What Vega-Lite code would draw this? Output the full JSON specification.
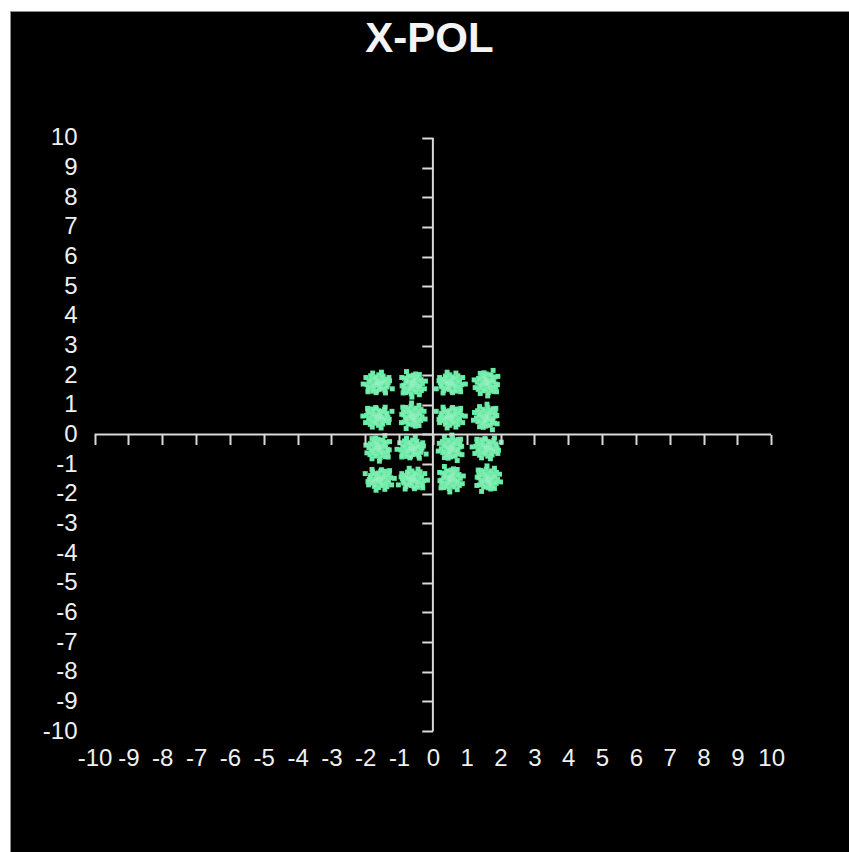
{
  "$schema": "https://vega.github.io/schema/vega-lite/v6.json",
  "width": 839,
  "height": 841,
  "autosize": {"type": "none"},
  "padding": {"left": 10, "top": 11, "right": 0, "bottom": 0},
  "background": "white",
  "title": {
    "text": "X-POL",
    "font": "Liberation Sans",
    "fontSize": 42,
    "fontWeight": "bold",
    "color": "#f4f4f4",
    "anchor": "middle",
    "frame": "group",
    "baseline": "alphabetic",
    "offset": -83
  },
  "config": {
    "view": {"fill": "black", "stroke": "#8c8c8c", "strokeWidth": 1},
    "axis": {
      "grid": false,
      "title": null,
      "labelFont": "Liberation Sans",
      "labelFontSize": 24,
      "labelColor": "#f0f0f0",
      "labelOverlap": false,
      "labelFlush": false,
      "labelBound": false,
      "labelExpr": "'' + datum.value"
    }
  },
  "datasets": {
    "symbols": [
      {"i":-1.62,"q":1.72},{"i":-1.57,"q":1.75},{"i":-1.68,"q":1.74},{"i":-1.60,"q":1.65},{"i":-1.65,"q":1.67},{"i":-1.53,"q":1.70},{"i":-1.72,"q":1.71},{"i":-1.58,"q":1.82},{"i":-1.67,"q":1.81},{"i":-1.51,"q":1.79},{"i":-1.74,"q":1.63},{"i":-1.54,"q":1.61},{"i":-1.64,"q":1.86},{"i":-1.49,"q":1.73},{"i":-1.42,"q":1.77},{"i":-1.83,"q":1.76},{"i":-1.45,"q":1.56},{"i":-1.80,"q":1.87},{"i":-1.59,"q":1.52},{"i":-1.69,"q":1.94},{"i":-1.38,"q":1.86},{"i":-1.87,"q":1.60},{"i":-1.50,"q":1.93},{"i":-1.76,"q":1.53},{"i":-1.35,"q":1.66},{"i":-1.66,"q":1.46},{"i":-1.28,"q":1.81},{"i":-1.98,"q":1.92},{"i":-1.40,"q":1.40},{"i":-1.92,"q":1.44},{"i":-1.52,"q":2.10},{"i":-1.20,"q":1.54},{"i":-2.06,"q":1.70},{"i":-1.78,"q":2.07},
      {"i":-1.44,"q":1.82},{"i":-1.79,"q":1.64},{"i":-1.53,"q":1.54},{"i":-1.72,"q":1.91},{"i":-1.36,"q":1.60},{"i":-1.89,"q":1.82},{"i":-1.47,"q":1.97},{"i":-1.78,"q":1.46},{"i":-1.32,"q":1.74},{"i":-1.91,"q":1.52},{"i":-1.60,"q":2.01},{"i":-1.42,"q":1.48},{"i":-1.84,"q":1.98},{"i":-1.30,"q":1.92},{"i":-1.68,"q":1.41},{"i":-1.95,"q":1.68},
      {"i":-0.60,"q":1.70},{"i":-0.57,"q":1.75},{"i":-0.58,"q":1.64},{"i":-0.67,"q":1.72},{"i":-0.65,"q":1.67},{"i":-0.62,"q":1.79},{"i":-0.61,"q":1.60},{"i":-0.50,"q":1.74},{"i":-0.51,"q":1.65},{"i":-0.53,"q":1.81},{"i":-0.69,"q":1.58},{"i":-0.71,"q":1.78},{"i":-0.46,"q":1.68},{"i":-0.59,"q":1.83},{"i":-0.55,"q":1.90},{"i":-0.56,"q":1.49},{"i":-0.76,"q":1.87},{"i":-0.45,"q":1.52},{"i":-0.80,"q":1.73},{"i":-0.38,"q":1.63},{"i":-0.46,"q":1.94},{"i":-0.72,"q":1.45},{"i":-0.39,"q":1.82},{"i":-0.79,"q":1.56},{"i":-0.66,"q":1.97},{"i":-0.86,"q":1.66},{"i":-0.51,"q":2.04},{"i":-0.40,"q":1.34},{"i":-0.92,"q":1.92},{"i":-0.88,"q":1.40},{"i":-0.22,"q":1.80},{"i":-0.78,"q":2.12},{"i":-0.62,"q":1.26},{"i":-0.25,"q":1.54},
      {"i":-0.50,"q":1.88},{"i":-0.68,"q":1.53},{"i":-0.78,"q":1.79},{"i":-0.41,"q":1.60},{"i":-0.72,"q":1.96},{"i":-0.50,"q":1.43},{"i":-0.35,"q":1.85},{"i":-0.86,"q":1.54},{"i":-0.58,"q":2.00},{"i":-0.80,"q":1.41},{"i":-0.31,"q":1.72},{"i":-0.84,"q":1.90},{"i":-0.34,"q":1.48},{"i":-0.40,"q":2.02},{"i":-0.91,"q":1.64},{"i":-0.64,"q":1.37},
      {"i":0.52,"q":1.72},{"i":0.47,"q":1.75},{"i":0.58,"q":1.74},{"i":0.50,"q":1.65},{"i":0.55,"q":1.67},{"i":0.43,"q":1.70},{"i":0.62,"q":1.71},{"i":0.48,"q":1.82},{"i":0.57,"q":1.81},{"i":0.41,"q":1.79},{"i":0.64,"q":1.63},{"i":0.44,"q":1.61},{"i":0.54,"q":1.86},{"i":0.39,"q":1.73},{"i":0.32,"q":1.77},{"i":0.73,"q":1.76},{"i":0.35,"q":1.56},{"i":0.70,"q":1.87},{"i":0.49,"q":1.52},{"i":0.59,"q":1.94},{"i":0.28,"q":1.86},{"i":0.77,"q":1.60},{"i":0.40,"q":1.93},{"i":0.66,"q":1.53},{"i":0.25,"q":1.66},{"i":0.56,"q":1.46},{"i":0.18,"q":1.81},{"i":0.88,"q":1.92},{"i":0.30,"q":1.40},{"i":0.82,"q":1.44},{"i":0.42,"q":2.10},{"i":0.10,"q":1.54},{"i":0.96,"q":1.70},{"i":0.68,"q":2.07},
      {"i":0.34,"q":1.82},{"i":0.69,"q":1.64},{"i":0.43,"q":1.54},{"i":0.62,"q":1.91},{"i":0.26,"q":1.60},{"i":0.79,"q":1.82},{"i":0.37,"q":1.97},{"i":0.68,"q":1.46},{"i":0.22,"q":1.74},{"i":0.81,"q":1.52},{"i":0.50,"q":2.01},{"i":0.32,"q":1.48},{"i":0.74,"q":1.98},{"i":0.20,"q":1.92},{"i":0.58,"q":1.41},{"i":0.85,"q":1.68},
      {"i":1.60,"q":1.74},{"i":1.57,"q":1.79},{"i":1.58,"q":1.68},{"i":1.67,"q":1.76},{"i":1.65,"q":1.71},{"i":1.62,"q":1.83},{"i":1.61,"q":1.64},{"i":1.50,"q":1.78},{"i":1.51,"q":1.69},{"i":1.53,"q":1.85},{"i":1.69,"q":1.62},{"i":1.71,"q":1.82},{"i":1.46,"q":1.72},{"i":1.59,"q":1.87},{"i":1.55,"q":1.94},{"i":1.56,"q":1.53},{"i":1.76,"q":1.91},{"i":1.45,"q":1.56},{"i":1.80,"q":1.77},{"i":1.38,"q":1.67},{"i":1.46,"q":1.98},{"i":1.72,"q":1.49},{"i":1.39,"q":1.86},{"i":1.79,"q":1.60},{"i":1.66,"q":2.01},{"i":1.86,"q":1.70},{"i":1.51,"q":2.08},{"i":1.40,"q":1.38},{"i":1.92,"q":1.96},{"i":1.88,"q":1.44},{"i":1.22,"q":1.84},{"i":1.78,"q":2.16},{"i":1.62,"q":1.30},{"i":1.25,"q":1.58},
      {"i":1.50,"q":1.92},{"i":1.68,"q":1.57},{"i":1.78,"q":1.83},{"i":1.41,"q":1.64},{"i":1.72,"q":2.00},{"i":1.50,"q":1.47},{"i":1.35,"q":1.89},{"i":1.86,"q":1.58},{"i":1.58,"q":2.04},{"i":1.80,"q":1.45},{"i":1.31,"q":1.76},{"i":1.84,"q":1.94},{"i":1.34,"q":1.52},{"i":1.40,"q":2.06},{"i":1.91,"q":1.68},{"i":1.64,"q":1.41},
      {"i":-1.63,"q":0.60},{"i":-1.58,"q":0.57},{"i":-1.69,"q":0.58},{"i":-1.61,"q":0.67},{"i":-1.66,"q":0.65},{"i":-1.54,"q":0.62},{"i":-1.73,"q":0.61},{"i":-1.59,"q":0.50},{"i":-1.68,"q":0.51},{"i":-1.52,"q":0.53},{"i":-1.75,"q":0.69},{"i":-1.55,"q":0.71},{"i":-1.65,"q":0.46},{"i":-1.50,"q":0.59},{"i":-1.43,"q":0.55},{"i":-1.84,"q":0.56},{"i":-1.46,"q":0.76},{"i":-1.81,"q":0.45},{"i":-1.60,"q":0.80},{"i":-1.70,"q":0.38},{"i":-1.39,"q":0.46},{"i":-1.88,"q":0.72},{"i":-1.51,"q":0.39},{"i":-1.77,"q":0.79},{"i":-1.36,"q":0.66},{"i":-1.67,"q":0.86},{"i":-1.29,"q":0.51},{"i":-1.99,"q":0.40},{"i":-1.41,"q":0.92},{"i":-1.93,"q":0.88},{"i":-1.53,"q":0.22},{"i":-1.21,"q":0.78},{"i":-2.07,"q":0.62},{"i":-1.79,"q":0.25},
      {"i":-1.45,"q":0.50},{"i":-1.80,"q":0.68},{"i":-1.54,"q":0.78},{"i":-1.73,"q":0.41},{"i":-1.37,"q":0.72},{"i":-1.90,"q":0.50},{"i":-1.48,"q":0.35},{"i":-1.79,"q":0.86},{"i":-1.33,"q":0.58},{"i":-1.92,"q":0.80},{"i":-1.61,"q":0.31},{"i":-1.43,"q":0.84},{"i":-1.85,"q":0.34},{"i":-1.31,"q":0.40},{"i":-1.69,"q":0.91},{"i":-1.96,"q":0.64},
      {"i":-0.61,"q":0.62},{"i":-0.58,"q":0.57},{"i":-0.59,"q":0.68},{"i":-0.68,"q":0.60},{"i":-0.66,"q":0.65},{"i":-0.63,"q":0.53},{"i":-0.62,"q":0.72},{"i":-0.51,"q":0.58},{"i":-0.52,"q":0.67},{"i":-0.54,"q":0.51},{"i":-0.70,"q":0.74},{"i":-0.72,"q":0.54},{"i":-0.47,"q":0.64},{"i":-0.60,"q":0.49},{"i":-0.56,"q":0.42},{"i":-0.57,"q":0.83},{"i":-0.77,"q":0.45},{"i":-0.46,"q":0.80},{"i":-0.81,"q":0.59},{"i":-0.39,"q":0.69},{"i":-0.47,"q":0.38},{"i":-0.73,"q":0.87},{"i":-0.40,"q":0.50},{"i":-0.80,"q":0.76},{"i":-0.67,"q":0.35},{"i":-0.87,"q":0.66},{"i":-0.52,"q":0.28},{"i":-0.41,"q":0.98},{"i":-0.93,"q":0.40},{"i":-0.89,"q":0.92},{"i":-0.23,"q":0.52},{"i":-0.79,"q":0.20},{"i":-0.63,"q":1.06},{"i":-0.26,"q":0.78},
      {"i":-0.51,"q":0.44},{"i":-0.69,"q":0.79},{"i":-0.79,"q":0.53},{"i":-0.42,"q":0.72},{"i":-0.73,"q":0.36},{"i":-0.51,"q":0.89},{"i":-0.36,"q":0.47},{"i":-0.87,"q":0.78},{"i":-0.59,"q":0.32},{"i":-0.81,"q":0.91},{"i":-0.32,"q":0.60},{"i":-0.85,"q":0.42},{"i":-0.35,"q":0.84},{"i":-0.41,"q":0.30},{"i":-0.92,"q":0.68},{"i":-0.65,"q":0.95},
      {"i":0.52,"q":0.60},{"i":0.47,"q":0.57},{"i":0.58,"q":0.58},{"i":0.50,"q":0.67},{"i":0.55,"q":0.65},{"i":0.43,"q":0.62},{"i":0.62,"q":0.61},{"i":0.48,"q":0.50},{"i":0.57,"q":0.51},{"i":0.41,"q":0.53},{"i":0.64,"q":0.69},{"i":0.44,"q":0.71},{"i":0.54,"q":0.46},{"i":0.39,"q":0.59},{"i":0.32,"q":0.55},{"i":0.73,"q":0.56},{"i":0.35,"q":0.76},{"i":0.70,"q":0.45},{"i":0.49,"q":0.80},{"i":0.59,"q":0.38},{"i":0.28,"q":0.46},{"i":0.77,"q":0.72},{"i":0.40,"q":0.39},{"i":0.66,"q":0.79},{"i":0.25,"q":0.66},{"i":0.56,"q":0.86},{"i":0.18,"q":0.51},{"i":0.88,"q":0.40},{"i":0.30,"q":0.92},{"i":0.82,"q":0.88},{"i":0.42,"q":0.22},{"i":0.10,"q":0.78},{"i":0.96,"q":0.62},{"i":0.68,"q":0.25},
      {"i":0.34,"q":0.50},{"i":0.69,"q":0.68},{"i":0.43,"q":0.78},{"i":0.62,"q":0.41},{"i":0.26,"q":0.72},{"i":0.79,"q":0.50},{"i":0.37,"q":0.35},{"i":0.68,"q":0.86},{"i":0.22,"q":0.58},{"i":0.81,"q":0.80},{"i":0.50,"q":0.31},{"i":0.32,"q":0.84},{"i":0.74,"q":0.34},{"i":0.20,"q":0.40},{"i":0.58,"q":0.91},{"i":0.85,"q":0.64},
      {"i":1.58,"q":0.58},{"i":1.55,"q":0.53},{"i":1.56,"q":0.64},{"i":1.65,"q":0.56},{"i":1.63,"q":0.61},{"i":1.60,"q":0.49},{"i":1.59,"q":0.68},{"i":1.48,"q":0.54},{"i":1.49,"q":0.63},{"i":1.51,"q":0.47},{"i":1.67,"q":0.70},{"i":1.69,"q":0.50},{"i":1.44,"q":0.60},{"i":1.57,"q":0.45},{"i":1.53,"q":0.38},{"i":1.54,"q":0.79},{"i":1.74,"q":0.41},{"i":1.43,"q":0.76},{"i":1.78,"q":0.55},{"i":1.36,"q":0.65},{"i":1.44,"q":0.34},{"i":1.70,"q":0.83},{"i":1.37,"q":0.46},{"i":1.77,"q":0.72},{"i":1.64,"q":0.31},{"i":1.84,"q":0.62},{"i":1.49,"q":0.24},{"i":1.38,"q":0.94},{"i":1.90,"q":0.36},{"i":1.86,"q":0.88},{"i":1.20,"q":0.48},{"i":1.76,"q":0.16},{"i":1.60,"q":1.02},{"i":1.23,"q":0.74},
      {"i":1.48,"q":0.40},{"i":1.66,"q":0.75},{"i":1.76,"q":0.49},{"i":1.39,"q":0.68},{"i":1.70,"q":0.32},{"i":1.48,"q":0.85},{"i":1.33,"q":0.43},{"i":1.84,"q":0.74},{"i":1.56,"q":0.28},{"i":1.78,"q":0.87},{"i":1.29,"q":0.56},{"i":1.82,"q":0.38},{"i":1.32,"q":0.80},{"i":1.38,"q":0.26},{"i":1.89,"q":0.64},{"i":1.62,"q":0.91},
      {"i":-1.60,"q":-0.46},{"i":-1.63,"q":-0.41},{"i":-1.62,"q":-0.52},{"i":-1.53,"q":-0.44},{"i":-1.55,"q":-0.49},{"i":-1.58,"q":-0.37},{"i":-1.59,"q":-0.56},{"i":-1.70,"q":-0.42},{"i":-1.69,"q":-0.51},{"i":-1.67,"q":-0.35},{"i":-1.51,"q":-0.58},{"i":-1.49,"q":-0.38},{"i":-1.74,"q":-0.48},{"i":-1.61,"q":-0.33},{"i":-1.65,"q":-0.26},{"i":-1.64,"q":-0.67},{"i":-1.44,"q":-0.29},{"i":-1.75,"q":-0.64},{"i":-1.40,"q":-0.43},{"i":-1.82,"q":-0.53},{"i":-1.74,"q":-0.22},{"i":-1.48,"q":-0.71},{"i":-1.81,"q":-0.34},{"i":-1.41,"q":-0.60},{"i":-1.54,"q":-0.19},{"i":-1.34,"q":-0.50},{"i":-1.69,"q":-0.12},{"i":-1.80,"q":-0.82},{"i":-1.28,"q":-0.24},{"i":-1.32,"q":-0.76},{"i":-1.98,"q":-0.36},{"i":-1.42,"q":-0.04},{"i":-1.58,"q":-0.90},{"i":-1.95,"q":-0.62},
      {"i":-1.70,"q":-0.28},{"i":-1.52,"q":-0.63},{"i":-1.42,"q":-0.37},{"i":-1.79,"q":-0.56},{"i":-1.48,"q":-0.20},{"i":-1.70,"q":-0.73},{"i":-1.85,"q":-0.31},{"i":-1.34,"q":-0.62},{"i":-1.62,"q":-0.16},{"i":-1.40,"q":-0.75},{"i":-1.89,"q":-0.44},{"i":-1.36,"q":-0.26},{"i":-1.86,"q":-0.68},{"i":-1.80,"q":-0.14},{"i":-1.29,"q":-0.52},{"i":-1.56,"q":-0.79},
      {"i":-0.62,"q":-0.48},{"i":-0.57,"q":-0.45},{"i":-0.68,"q":-0.46},{"i":-0.60,"q":-0.55},{"i":-0.65,"q":-0.53},{"i":-0.53,"q":-0.50},{"i":-0.72,"q":-0.49},{"i":-0.58,"q":-0.38},{"i":-0.67,"q":-0.39},{"i":-0.51,"q":-0.41},{"i":-0.74,"q":-0.57},{"i":-0.54,"q":-0.59},{"i":-0.64,"q":-0.34},{"i":-0.49,"q":-0.47},{"i":-0.42,"q":-0.43},{"i":-0.83,"q":-0.44},{"i":-0.45,"q":-0.64},{"i":-0.80,"q":-0.33},{"i":-0.59,"q":-0.68},{"i":-0.69,"q":-0.26},{"i":-0.38,"q":-0.34},{"i":-0.87,"q":-0.60},{"i":-0.50,"q":-0.27},{"i":-0.76,"q":-0.67},{"i":-0.35,"q":-0.54},{"i":-0.66,"q":-0.74},{"i":-0.28,"q":-0.39},{"i":-0.98,"q":-0.28},{"i":-0.40,"q":-0.80},{"i":-0.92,"q":-0.76},{"i":-0.52,"q":-0.10},{"i":-0.20,"q":-0.66},{"i":-1.06,"q":-0.50},{"i":-0.78,"q":-0.13},
      {"i":-0.44,"q":-0.38},{"i":-0.79,"q":-0.56},{"i":-0.53,"q":-0.66},{"i":-0.72,"q":-0.29},{"i":-0.36,"q":-0.60},{"i":-0.89,"q":-0.38},{"i":-0.47,"q":-0.23},{"i":-0.78,"q":-0.74},{"i":-0.32,"q":-0.46},{"i":-0.91,"q":-0.68},{"i":-0.60,"q":-0.19},{"i":-0.42,"q":-0.72},{"i":-0.84,"q":-0.22},{"i":-0.30,"q":-0.28},{"i":-0.68,"q":-0.79},{"i":-0.95,"q":-0.52},
      {"i":0.54,"q":-0.46},{"i":0.51,"q":-0.51},{"i":0.52,"q":-0.40},{"i":0.61,"q":-0.48},{"i":0.59,"q":-0.43},{"i":0.56,"q":-0.55},{"i":0.55,"q":-0.36},{"i":0.44,"q":-0.50},{"i":0.45,"q":-0.41},{"i":0.47,"q":-0.57},{"i":0.63,"q":-0.34},{"i":0.65,"q":-0.54},{"i":0.40,"q":-0.44},{"i":0.53,"q":-0.59},{"i":0.49,"q":-0.66},{"i":0.50,"q":-0.25},{"i":0.70,"q":-0.63},{"i":0.39,"q":-0.28},{"i":0.74,"q":-0.49},{"i":0.32,"q":-0.39},{"i":0.40,"q":-0.70},{"i":0.66,"q":-0.21},{"i":0.33,"q":-0.58},{"i":0.73,"q":-0.32},{"i":0.60,"q":-0.73},{"i":0.80,"q":-0.42},{"i":0.45,"q":-0.80},{"i":0.34,"q":-0.10},{"i":0.86,"q":-0.68},{"i":0.82,"q":-0.16},{"i":0.16,"q":-0.56},{"i":0.72,"q":-0.88},{"i":0.56,"q":-0.02},{"i":0.19,"q":-0.30},
      {"i":0.44,"q":-0.64},{"i":0.62,"q":-0.29},{"i":0.72,"q":-0.55},{"i":0.35,"q":-0.36},{"i":0.66,"q":-0.72},{"i":0.44,"q":-0.19},{"i":0.29,"q":-0.61},{"i":0.80,"q":-0.30},{"i":0.52,"q":-0.76},{"i":0.74,"q":-0.17},{"i":0.25,"q":-0.48},{"i":0.78,"q":-0.66},{"i":0.28,"q":-0.24},{"i":0.34,"q":-0.78},{"i":0.85,"q":-0.40},{"i":0.58,"q":-0.13},
      {"i":1.60,"q":-0.44},{"i":1.65,"q":-0.47},{"i":1.54,"q":-0.46},{"i":1.62,"q":-0.37},{"i":1.57,"q":-0.39},{"i":1.69,"q":-0.42},{"i":1.50,"q":-0.43},{"i":1.64,"q":-0.54},{"i":1.55,"q":-0.53},{"i":1.71,"q":-0.51},{"i":1.48,"q":-0.35},{"i":1.68,"q":-0.33},{"i":1.58,"q":-0.58},{"i":1.73,"q":-0.45},{"i":1.80,"q":-0.49},{"i":1.39,"q":-0.48},{"i":1.77,"q":-0.28},{"i":1.42,"q":-0.59},{"i":1.63,"q":-0.24},{"i":1.53,"q":-0.66},{"i":1.84,"q":-0.58},{"i":1.35,"q":-0.32},{"i":1.72,"q":-0.65},{"i":1.46,"q":-0.25},{"i":1.87,"q":-0.38},{"i":1.56,"q":-0.18},{"i":1.94,"q":-0.53},{"i":1.24,"q":-0.64},{"i":1.82,"q":-0.12},{"i":1.30,"q":-0.16},{"i":1.70,"q":-0.82},{"i":2.02,"q":-0.26},{"i":1.16,"q":-0.42},{"i":1.44,"q":-0.79},
      {"i":1.78,"q":-0.54},{"i":1.43,"q":-0.36},{"i":1.69,"q":-0.26},{"i":1.50,"q":-0.63},{"i":1.86,"q":-0.32},{"i":1.33,"q":-0.54},{"i":1.75,"q":-0.69},{"i":1.44,"q":-0.18},{"i":1.90,"q":-0.46},{"i":1.31,"q":-0.24},{"i":1.62,"q":-0.73},{"i":1.80,"q":-0.20},{"i":1.38,"q":-0.70},{"i":1.92,"q":-0.64},{"i":1.54,"q":-0.13},{"i":1.27,"q":-0.40},
      {"i":-1.58,"q":-1.50},{"i":-1.63,"q":-1.53},{"i":-1.52,"q":-1.52},{"i":-1.60,"q":-1.43},{"i":-1.55,"q":-1.45},{"i":-1.67,"q":-1.48},{"i":-1.48,"q":-1.49},{"i":-1.62,"q":-1.60},{"i":-1.53,"q":-1.59},{"i":-1.69,"q":-1.57},{"i":-1.46,"q":-1.41},{"i":-1.66,"q":-1.39},{"i":-1.56,"q":-1.64},{"i":-1.71,"q":-1.51},{"i":-1.78,"q":-1.55},{"i":-1.37,"q":-1.54},{"i":-1.75,"q":-1.34},{"i":-1.40,"q":-1.65},{"i":-1.61,"q":-1.30},{"i":-1.51,"q":-1.72},{"i":-1.82,"q":-1.64},{"i":-1.33,"q":-1.38},{"i":-1.70,"q":-1.71},{"i":-1.44,"q":-1.31},{"i":-1.85,"q":-1.44},{"i":-1.54,"q":-1.24},{"i":-1.92,"q":-1.59},{"i":-1.22,"q":-1.70},{"i":-1.80,"q":-1.18},{"i":-1.28,"q":-1.22},{"i":-1.68,"q":-1.88},{"i":-2.00,"q":-1.32},{"i":-1.14,"q":-1.48},{"i":-1.42,"q":-1.85},
      {"i":-1.76,"q":-1.60},{"i":-1.41,"q":-1.42},{"i":-1.67,"q":-1.32},{"i":-1.48,"q":-1.69},{"i":-1.84,"q":-1.38},{"i":-1.31,"q":-1.60},{"i":-1.73,"q":-1.75},{"i":-1.42,"q":-1.24},{"i":-1.88,"q":-1.52},{"i":-1.29,"q":-1.30},{"i":-1.60,"q":-1.79},{"i":-1.78,"q":-1.26},{"i":-1.36,"q":-1.76},{"i":-1.90,"q":-1.70},{"i":-1.52,"q":-1.19},{"i":-1.25,"q":-1.46},
      {"i":-0.60,"q":-1.52},{"i":-0.65,"q":-1.49},{"i":-0.54,"q":-1.50},{"i":-0.62,"q":-1.59},{"i":-0.57,"q":-1.57},{"i":-0.69,"q":-1.54},{"i":-0.50,"q":-1.53},{"i":-0.64,"q":-1.42},{"i":-0.55,"q":-1.43},{"i":-0.71,"q":-1.45},{"i":-0.48,"q":-1.61},{"i":-0.68,"q":-1.63},{"i":-0.58,"q":-1.38},{"i":-0.73,"q":-1.51},{"i":-0.80,"q":-1.47},{"i":-0.39,"q":-1.48},{"i":-0.77,"q":-1.68},{"i":-0.42,"q":-1.37},{"i":-0.63,"q":-1.72},{"i":-0.53,"q":-1.30},{"i":-0.84,"q":-1.38},{"i":-0.35,"q":-1.64},{"i":-0.72,"q":-1.31},{"i":-0.46,"q":-1.71},{"i":-0.87,"q":-1.58},{"i":-0.56,"q":-1.78},{"i":-0.94,"q":-1.43},{"i":-0.24,"q":-1.32},{"i":-0.82,"q":-1.84},{"i":-0.30,"q":-1.80},{"i":-0.70,"q":-1.14},{"i":-1.02,"q":-1.70},{"i":-0.16,"q":-1.54},{"i":-0.44,"q":-1.17},
      {"i":-0.78,"q":-1.42},{"i":-0.43,"q":-1.60},{"i":-0.69,"q":-1.70},{"i":-0.50,"q":-1.33},{"i":-0.86,"q":-1.64},{"i":-0.33,"q":-1.42},{"i":-0.75,"q":-1.27},{"i":-0.44,"q":-1.78},{"i":-0.90,"q":-1.50},{"i":-0.31,"q":-1.72},{"i":-0.62,"q":-1.23},{"i":-0.80,"q":-1.76},{"i":-0.38,"q":-1.26},{"i":-0.92,"q":-1.32},{"i":-0.54,"q":-1.83},{"i":-0.27,"q":-1.56},
      {"i":0.52,"q":-1.50},{"i":0.55,"q":-1.45},{"i":0.54,"q":-1.56},{"i":0.45,"q":-1.48},{"i":0.47,"q":-1.53},{"i":0.50,"q":-1.41},{"i":0.51,"q":-1.60},{"i":0.62,"q":-1.46},{"i":0.61,"q":-1.55},{"i":0.59,"q":-1.39},{"i":0.43,"q":-1.62},{"i":0.41,"q":-1.42},{"i":0.66,"q":-1.52},{"i":0.53,"q":-1.37},{"i":0.57,"q":-1.30},{"i":0.56,"q":-1.71},{"i":0.36,"q":-1.33},{"i":0.67,"q":-1.68},{"i":0.32,"q":-1.47},{"i":0.74,"q":-1.57},{"i":0.66,"q":-1.26},{"i":0.40,"q":-1.75},{"i":0.73,"q":-1.38},{"i":0.33,"q":-1.64},{"i":0.46,"q":-1.23},{"i":0.26,"q":-1.54},{"i":0.61,"q":-1.16},{"i":0.72,"q":-1.86},{"i":0.20,"q":-1.28},{"i":0.24,"q":-1.80},{"i":0.90,"q":-1.40},{"i":0.34,"q":-1.08},{"i":0.50,"q":-1.94},{"i":0.87,"q":-1.66},
      {"i":0.62,"q":-1.32},{"i":0.44,"q":-1.67},{"i":0.34,"q":-1.41},{"i":0.71,"q":-1.60},{"i":0.40,"q":-1.24},{"i":0.62,"q":-1.77},{"i":0.77,"q":-1.35},{"i":0.26,"q":-1.66},{"i":0.54,"q":-1.20},{"i":0.32,"q":-1.79},{"i":0.81,"q":-1.48},{"i":0.28,"q":-1.30},{"i":0.78,"q":-1.72},{"i":0.72,"q":-1.18},{"i":0.21,"q":-1.56},{"i":0.48,"q":-1.83},
      {"i":1.62,"q":-1.50},{"i":1.65,"q":-1.55},{"i":1.64,"q":-1.44},{"i":1.55,"q":-1.52},{"i":1.57,"q":-1.47},{"i":1.60,"q":-1.59},{"i":1.61,"q":-1.40},{"i":1.72,"q":-1.54},{"i":1.71,"q":-1.45},{"i":1.69,"q":-1.61},{"i":1.53,"q":-1.38},{"i":1.51,"q":-1.58},{"i":1.76,"q":-1.48},{"i":1.63,"q":-1.63},{"i":1.67,"q":-1.70},{"i":1.66,"q":-1.29},{"i":1.46,"q":-1.67},{"i":1.77,"q":-1.32},{"i":1.42,"q":-1.53},{"i":1.84,"q":-1.43},{"i":1.76,"q":-1.74},{"i":1.50,"q":-1.25},{"i":1.83,"q":-1.62},{"i":1.43,"q":-1.36},{"i":1.56,"q":-1.77},{"i":1.36,"q":-1.46},{"i":1.71,"q":-1.84},{"i":1.82,"q":-1.14},{"i":1.30,"q":-1.72},{"i":1.34,"q":-1.20},{"i":2.00,"q":-1.60},{"i":1.44,"q":-1.92},{"i":1.60,"q":-1.06},{"i":1.97,"q":-1.34},
      {"i":1.72,"q":-1.68},{"i":1.54,"q":-1.33},{"i":1.44,"q":-1.59},{"i":1.81,"q":-1.40},{"i":1.50,"q":-1.76},{"i":1.72,"q":-1.23},{"i":1.87,"q":-1.65},{"i":1.36,"q":-1.34},{"i":1.64,"q":-1.80},{"i":1.42,"q":-1.21},{"i":1.91,"q":-1.52},{"i":1.38,"q":-1.70},{"i":1.88,"q":-1.28},{"i":1.82,"q":-1.82},{"i":1.31,"q":-1.44},{"i":1.58,"q":-1.17}
    ],
    "crosshair": [
      {"i_from": -10, "i_to": 10, "q_from": 0, "q_to": 0},
      {"i_from": 0, "i_to": 0, "q_from": -10, "q_to": 10}
    ]
  },
  "layer": [
    {
      "data": {"name": "symbols"},
      "mark": {"type": "square", "size": 25, "color": "#5de99e", "opacity": 1},
      "encoding": {
        "x": {
          "field": "i",
          "type": "quantitative",
          "scale": {"domain": [-12.5, 12.3], "nice": false, "zero": false},
          "axis": {
            "orient": "bottom",
            "values": [-10,-9,-8,-7,-6,-5,-4,-3,-2,-1,0,1,2,3,4,5,6,7,8,9,10],
            "domain": false,
            "ticks": false,
            "tickSize": 0,
            "labelPadding": 0,
            "offset": -106
          }
        },
        "y": {
          "field": "q",
          "type": "quantitative",
          "scale": {"domain": [-14.08, 14.28], "nice": false, "zero": false},
          "axis": {
            "orient": "left",
            "values": [-10,-9,-8,-7,-6,-5,-4,-3,-2,-1,0,1,2,3,4,5,6,7,8,9,10],
            "domain": false,
            "ticks": false,
            "tickSize": 0,
            "labelPadding": 0,
            "offset": -67
          }
        }
      }
    },
    {
      "data": {"name": "symbols"},
      "mark": {"type": "square", "size": 14, "color": "#ffffff", "opacity": 0.13},
      "encoding": {
        "x": {"field": "i", "type": "quantitative", "scale": {"domain": [-12.5, 12.3], "nice": false, "zero": false}, "axis": null},
        "y": {"field": "q", "type": "quantitative", "scale": {"domain": [-14.08, 14.28], "nice": false, "zero": false}, "axis": null}
      }
    },
    {
      "data": {"name": "crosshair"},
      "mark": {"type": "rule", "color": "#d9d9d9", "strokeWidth": 2},
      "encoding": {
        "x": {
          "field": "i_from",
          "type": "quantitative",
          "scale": {"domain": [-12.5, 12.3], "nice": false, "zero": false},
          "axis": {
            "orient": "bottom",
            "values": [-10,-9,-8,-7,-6,-5,-4,-3,-2,-1,0,1,2,3,4,5,6,7,8,9,10],
            "domain": false,
            "labels": false,
            "tickSize": 10,
            "tickWidth": 2,
            "tickColor": "#d9d9d9",
            "offset": -417.5,
            "zindex": 2
          }
        },
        "x2": {"field": "i_to"},
        "y": {
          "field": "q_from",
          "type": "quantitative",
          "scale": {"domain": [-14.08, 14.28], "nice": false, "zero": false},
          "axis": {
            "orient": "left",
            "values": [-10,-9,-8,-7,-6,-5,-4,-3,-2,-1,0,1,2,3,4,5,6,7,8,9,10],
            "domain": false,
            "labels": false,
            "tickSize": 11,
            "tickWidth": 2,
            "tickColor": "#d9d9d9",
            "offset": -422.8,
            "zindex": 2
          }
        },
        "y2": {"field": "q_to"}
      }
    }
  ],
  "resolve": {"axis": {"x": "independent", "y": "independent"}}
}
